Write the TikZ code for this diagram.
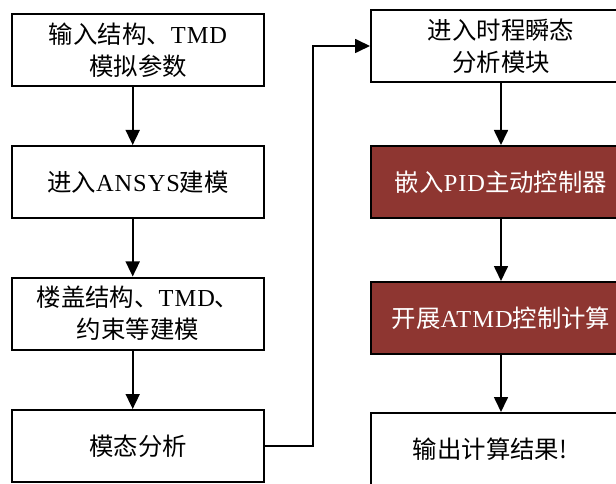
\documentclass[tikz,border=0pt]{standalone}
\usepackage{fontspec}
\setmainfont{Liberation Serif}
\newfontfamily\cjk{Noto Sans CJK SC}
\newfontfamily\lat[LetterSpace=4]{Liberation Serif}
\usetikzlibrary{arrows.meta}
\definecolor{boxred}{HTML}{8E3631}
\tikzset{
  box/.style={draw=black, line width=2bp, minimum height=72bp, inner sep=0pt,
    font=\fontsize{24.5}{32}\selectfont\cjk, align=center},
  lbox/.style={box, minimum width=252bp},
  rbox/.style={box, minimum width=260bp},
  redbox/.style={rbox, fill=boxred, text=white},
  arr/.style={line width=1.7bp, -{Triangle[length=15bp,width=14bp]}}
}
\begin{document}
\begin{tikzpicture}[x=1bp,y=-1bp]
\useasboundingbox (0,0) rectangle (616,484);
\clip (0,0) rectangle (616,484);
\coordinate (axL) at (132.7,0);
\coordinate (axR) at (501,0);
% left column
\node[lbox] (L1) at (138,50) {输入结构、{\lat TMD}\\模拟参数};
\node[lbox] (L2) at (138,182) {进入{\lat ANSYS}建模};
\node[lbox] (L3) at (138,313.5) {楼盖结构、{\lat TMD}、\\约束等建模};
\node[lbox] (L4) at (138,446) {模态分析};
% right column
\node[rbox] (R1) at (501,46) {进入时程瞬态\\分析模块};
\node[redbox] (R2) at (501,182) {嵌入{\lat PID}主动控制器};
\node[redbox] (R3) at (501,318) {开展{\lat ATMD}控制计算};
\node[rbox] (R4) at (501,449) {输出计算结果!\hspace*{22bp}};
% connectors
\draw[arr] (L1.south -| axL) -- (L2.north -| axL);
\draw[arr] (L2.south -| axL) -- (L3.north -| axL);
\draw[arr] (L3.south -| axL) -- (L4.north -| axL);
\draw[arr] (L4.east) -- ++(48,0) |- (R1.west);
\draw[arr] (R1.south -| axR) -- (R2.north -| axR);
\draw[arr] (R2.south -| axR) -- (R3.north -| axR);
\draw[arr] (R3.south -| axR) -- (R4.north -| axR);
\end{tikzpicture}
\end{document}
